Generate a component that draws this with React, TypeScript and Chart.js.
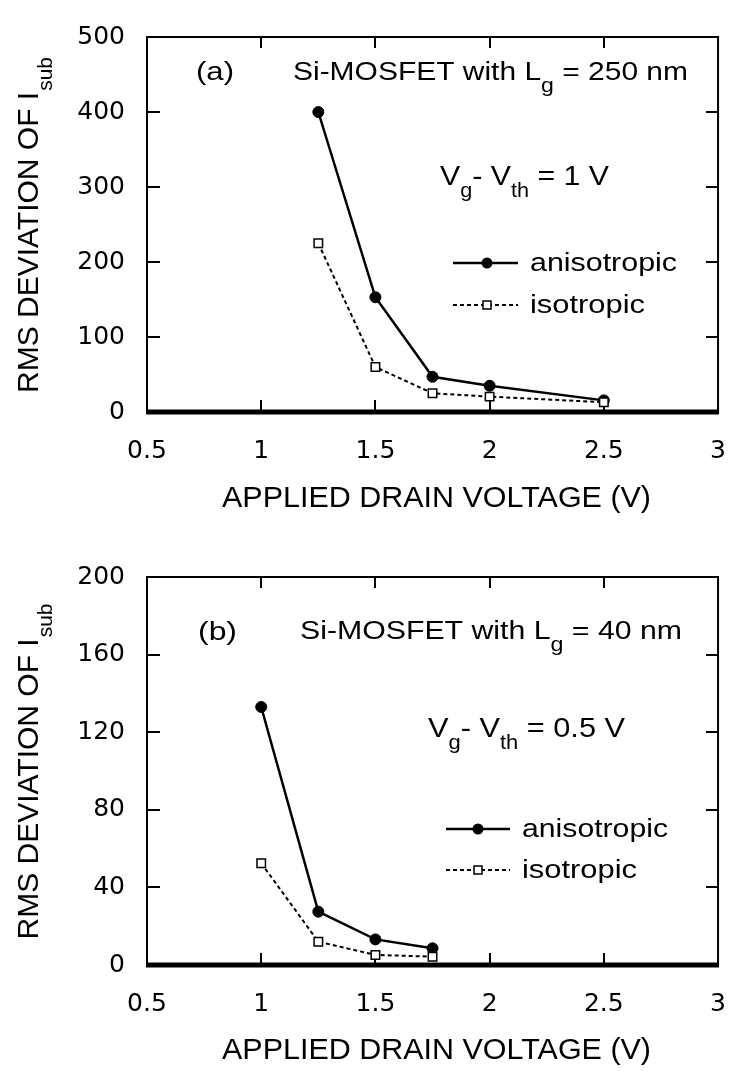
import React, { useEffect, useRef } from "react";
import { Chart, registerables } from "chart.js";

Chart.register(...registerables);

// ---------- data ----------
const xTicks = [0.5, 1, 1.5, 2, 2.5, 3];
const yTicksA = [0, 100, 200, 300, 400, 500];
const yTicksB = [0, 40, 80, 120, 160, 200];

const drainA = [1.25, 1.5, 1.75, 2.0, 2.5];
const anisoA = [400, 153, 47, 35, 15.5];
const isoA = [225, 60, 25, 20.5, 13];

const drainB = [1.0, 1.25, 1.5, 1.75];
const anisoB = [133, 27.5, 13.2, 8.6];
const isoB = [52.5, 12, 5.2, 4.3];

const seriesNames = ["anisotropic", "isotropic"];
const xTitle = "APPLIED DRAIN VOLTAGE (V)";
const yTitleMain = "RMS DEVIATION OF I";
const yTitleSub = "sub";
const panelTags = ["(a)", "(b)"];
const deviceA = [{ t: "Si-MOSFET with L" }, { t: "g", sub: true }, { t: " = 250 nm" }];
const deviceB = [{ t: "Si-MOSFET with L" }, { t: "g", sub: true }, { t: " = 40 nm" }];
const biasA = [{ t: "V" }, { t: "g", sub: true }, { t: "- " }, { t: "V" }, { t: "th", sub: true }, { t: " = 1 V" }];
const biasB = [{ t: "V" }, { t: "g", sub: true }, { t: "- " }, { t: "V" }, { t: "th", sub: true }, { t: " = 0.5 V" }];

const FONT = '"Liberation Sans", Arial, Helvetica, sans-serif';
const TICK_FONT = '"DejaVu Sans", sans-serif';

type Seg = { t: string; sub?: boolean };

function drawRich(
  ctx: CanvasRenderingContext2D,
  segs: Seg[],
  x: number,
  y: number,
  size: number,
  subSize: number,
  subDy: number,
  width?: number
) {
  let natural = 0;
  for (const s of segs) {
    ctx.font = `${s.sub ? subSize : size}px ${FONT}`;
    natural += ctx.measureText(s.t).width;
  }
  const sx = width ? width / natural : 1;
  ctx.save();
  ctx.fillStyle = "#000";
  ctx.textAlign = "left";
  ctx.textBaseline = "alphabetic";
  ctx.translate(x, y);
  ctx.scale(sx, 1);
  let cx = 0;
  for (const s of segs) {
    ctx.font = `${s.sub ? subSize : size}px ${FONT}`;
    ctx.fillText(s.t, cx, s.sub ? subDy : 0);
    cx += ctx.measureText(s.t).width;
  }
  ctx.restore();
}

type Panel = {
  height: number;
  top: number;
  bottom: number;
  xs: number[];
  aniso: number[];
  iso: number[];
  yTicks: number[];
  tag: string;
  tagPos: [number, number, number];
  device: Seg[];
  devicePos: [number, number, number];
  bias: Seg[];
  biasPos: [number, number, number];
  legendLineY: number[];
  legendTextY: number[];
  legendX: [number, number, number, number];
  legendW: number[];
  xTitleY: number;
};

const panels: Panel[] = [
  {
    height: 540,
    top: 23,
    bottom: 412,
    xs: drainA,
    aniso: anisoA,
    iso: isoA,
    yTicks: yTicksA,
    tag: panelTags[0],
    tagPos: [196, 80, 38],
    device: deviceA,
    devicePos: [293, 80, 395],
    bias: biasA,
    biasPos: [440, 185, 169],
    legendLineY: [263, 305],
    legendTextY: [271, 313],
    legendX: [453, 518, 487, 530],
    legendW: [147, 115],
    xTitleY: 507,
  },
  {
    height: 531,
    top: 35,
    bottom: 425,
    xs: drainB,
    aniso: anisoB,
    iso: isoB,
    yTicks: yTicksB,
    tag: panelTags[1],
    tagPos: [198, 100, 39],
    device: deviceB,
    devicePos: [300, 99, 382],
    bias: biasB,
    biasPos: [428, 197, 197],
    legendLineY: [289, 330],
    legendTextY: [297, 338],
    legendX: [446, 510, 478, 522],
    legendW: [146, 115],
    xTitleY: 519,
  },
];

function makeChart(canvas: HTMLCanvasElement, p: Panel) {
  const decor = {
    id: "decor",
    beforeDatasetsDraw(chart: any) {
      const ctx: CanvasRenderingContext2D = chart.ctx;
      const a = chart.chartArea;
      const xs = chart.scales.x;
      const ys = chart.scales.y;
      ctx.save();
      ctx.strokeStyle = "#000";
      ctx.lineWidth = 2;
      ctx.beginPath();
      ctx.moveTo(a.left, a.bottom);
      ctx.lineTo(a.left, a.top);
      ctx.lineTo(a.right, a.top);
      ctx.lineTo(a.right, a.bottom);
      ctx.stroke();
      // inward tick marks
      ctx.beginPath();
      for (const v of xTicks) {
        const px = Math.round(xs.getPixelForValue(v));
        if (px <= a.left + 1 || px >= a.right - 1) continue;
        ctx.moveTo(px, a.bottom);
        ctx.lineTo(px, a.bottom - 12);
        ctx.moveTo(px, a.top);
        ctx.lineTo(px, a.top + 11);
      }
      for (const v of p.yTicks) {
        const py = Math.round(ys.getPixelForValue(v));
        if (py <= a.top + 1 || py >= a.bottom - 1) continue;
        ctx.moveTo(a.left, py);
        ctx.lineTo(a.left + 13, py);
        ctx.moveTo(a.right, py);
        ctx.lineTo(a.right - 12, py);
      }
      ctx.stroke();
      // thick zero axis
      ctx.lineWidth = 5;
      ctx.beginPath();
      ctx.moveTo(a.left - 1, a.bottom);
      ctx.lineTo(a.right + 1, a.bottom);
      ctx.stroke();
      ctx.restore();
    },
    afterDraw(chart: any) {
      const ctx: CanvasRenderingContext2D = chart.ctx;
      const a = chart.chartArea;
      // annotations
      drawRich(ctx, [{ t: p.tag }], p.tagPos[0], p.tagPos[1], 26, 20, 0, p.tagPos[2]);
      drawRich(ctx, p.device, p.devicePos[0], p.devicePos[1], 26, 20, 12, p.devicePos[2]);
      drawRich(ctx, p.bias, p.biasPos[0], p.biasPos[1], 28, 20, 12, p.biasPos[2]);
      // legend
      const [lx0, lx1, mx, tx] = p.legendX;
      for (let i = 0; i < 2; i++) {
        const ly = p.legendLineY[i];
        ctx.save();
        ctx.strokeStyle = "#000";
        ctx.lineWidth = i === 0 ? 2.5 : 2;
        ctx.setLineDash(i === 0 ? [] : [4, 3]);
        ctx.beginPath();
        ctx.moveTo(lx0, ly);
        ctx.lineTo(lx1, ly);
        ctx.stroke();
        ctx.setLineDash([]);
        if (i === 0) {
          ctx.fillStyle = "#000";
          ctx.beginPath();
          ctx.arc(mx, ly, 5.5, 0, Math.PI * 2);
          ctx.fill();
        } else {
          ctx.fillStyle = "#fff";
          ctx.lineWidth = 1.5;
          ctx.fillRect(mx - 4, ly - 4, 8, 8);
          ctx.strokeRect(mx - 4, ly - 4, 8, 8);
        }
        ctx.restore();
        drawRich(ctx, [{ t: seriesNames[i] }], tx, p.legendTextY[i], 26, 20, 0, p.legendW[i]);
      }
      // x title
      drawRich(ctx, [{ t: xTitle }], 222, p.xTitleY, 30, 20, 0, 429);
      // y title (rotated, centred on the plot)
      ctx.save();
      const cy = (a.top + a.bottom) / 2 + 1;
      ctx.translate(38, cy);
      ctx.rotate(-Math.PI / 2);
      ctx.font = `30px ${FONT}`;
      const w1 = ctx.measureText(yTitleMain).width;
      ctx.font = `21px ${FONT}`;
      const w2 = ctx.measureText(yTitleSub).width;
      ctx.fillStyle = "#000";
      ctx.textBaseline = "alphabetic";
      ctx.textAlign = "left";
      const start = -(w1 + w2) / 2;
      ctx.font = `30px ${FONT}`;
      ctx.fillText(yTitleMain, start, 0);
      ctx.font = `21px ${FONT}`;
      ctx.fillText(yTitleSub, start + w1 + 1, 14);
      ctx.restore();
    },
  };

  return new Chart(canvas, {
    type: "line",
    data: {
      datasets: [
        {
          label: seriesNames[1],
          data: p.xs.map((x, i) => ({ x, y: p.iso[i] })),
          borderColor: "#000",
          borderWidth: 2,
          borderDash: [4, 3],
          pointStyle: "rect",
          pointRadius: 6,
          pointBackgroundColor: "#fff",
          pointBorderColor: "#000",
          pointBorderWidth: 1.5,
          tension: 0,
          fill: false,
        },
        {
          label: seriesNames[0],
          data: p.xs.map((x, i) => ({ x, y: p.aniso[i] })),
          borderColor: "#000",
          borderWidth: 2.5,
          pointStyle: "circle",
          pointRadius: 5.5,
          pointBackgroundColor: "#000",
          pointBorderColor: "#000",
          pointBorderWidth: 1,
          tension: 0,
          fill: false,
        },
      ],
    },
    options: {
      responsive: false,
      animation: false,
      devicePixelRatio: 1,
      layout: { padding: { left: 0, right: 9, top: p.top, bottom: 0 } },
      plugins: { legend: { display: false }, tooltip: { enabled: false } },
      scales: {
        x: {
          type: "linear",
          min: xTicks[0],
          max: xTicks[xTicks.length - 1],
          afterBuildTicks: (s: any) => {
            s.ticks = xTicks.map((v) => ({ value: v }));
          },
          afterFit: (s: any) => {
            s.height = p.height - p.bottom;
          },
          grid: { display: false, drawTicks: false },
          border: { display: false },
          ticks: {
            padding: 24,
            color: "#000",
            font: { family: TICK_FONT, size: 25 },
            maxRotation: 0,
            autoSkip: false,
            callback: (v: any) => String(v),
          },
        },
        y: {
          type: "linear",
          min: p.yTicks[0],
          max: p.yTicks[p.yTicks.length - 1],
          afterBuildTicks: (s: any) => {
            s.ticks = p.yTicks.map((v) => ({ value: v }));
          },
          afterFit: (s: any) => {
            s.width = 147;
          },
          grid: { display: false, drawTicks: false },
          border: { display: false },
          ticks: {
            padding: 22,
            color: "#000",
            font: { family: TICK_FONT, size: 25 },
            autoSkip: false,
            callback: (v: any) => String(v),
          },
        },
      },
    },
    plugins: [decor],
  } as any);
}

function PanelChart({ p, top }: { p: Panel; top: number }) {
  const ref = useRef<HTMLCanvasElement | null>(null);
  useEffect(() => {
    if (!ref.current) return;
    const c = makeChart(ref.current, p);
    return () => c.destroy();
  }, [p]);
  return (
    <canvas
      ref={ref}
      width={750}
      height={p.height}
      style={{ position: "absolute", left: 0, top, width: 750, height: p.height, display: "block" }}
    />
  );
}

export default function App() {
  return (
    <div style={{ position: "absolute", left: 0, top: 0, width: 750, height: 1071, background: "#fff" }}>
      <PanelChart p={panels[0]} top={0} />
      <PanelChart p={panels[1]} top={540} />
    </div>
  );
}
